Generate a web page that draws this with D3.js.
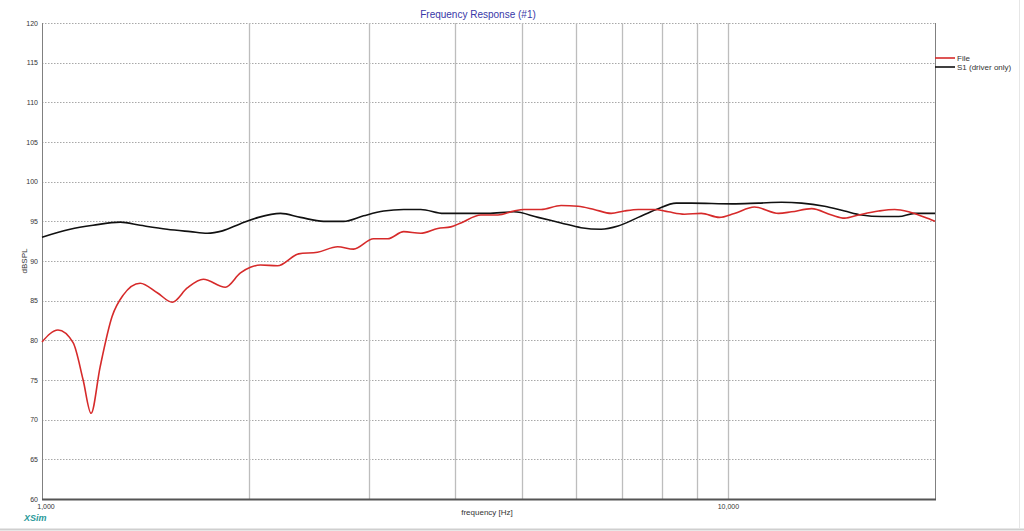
<!DOCTYPE html>
<html>
<head>
<meta charset="utf-8">
<script src="https://cdn.jsdelivr.net/npm/d3@7"></script>
<style>
    body { margin: 0; background: #fff; }
    svg { display: block; font-family: "Liberation Sans", Arial, sans-serif; }
</style>
</head>
<body>
<div id="chart"></div>
<script>
// "File" measurement (red)
const fileFreq = [1000, 1055, 1110, 1148, 1179, 1215, 1265, 1313, 1390, 1472, 1548, 1628, 1718, 1850, 1946,
    2012, 2081, 2203, 2365, 2520, 2696, 2844, 3042, 3189, 3365, 3563, 3772, 3941, 4076, 4360, 4616, 4870,
    5037, 5334, 5705, 6040, 6373, 6748, 7050, 7390, 7798, 8173, 8627, 9131, 9702, 10204, 10914, 11832,
    12361, 13222, 14138, 14770, 15478, 16555, 17471, 18315, 19323, 20000];
const fileDb = [79.8, 81.3, 79.7, 75.0, 70.8, 76.6, 83.0, 85.7, 87.2, 86.0, 84.8, 86.6, 87.7, 86.7, 88.5,
    89.2, 89.5, 89.4, 90.9, 91.1, 91.8, 91.5, 92.8, 92.8, 93.7, 93.5, 94.1, 94.3, 94.8, 95.8, 95.8, 96.3,
    96.5, 96.5, 97.0, 96.9, 96.5, 96.0, 96.3, 96.5, 96.5, 96.2, 95.9, 96.0, 95.5, 96.0, 96.8, 96.0,
    96.2, 96.6, 95.8, 95.4, 95.8, 96.3, 96.5, 96.2, 95.5, 95.0];

// "S1 (driver only)" simulation (black)
const s1Freq = [1000, 1099, 1187, 1300, 1390, 1521, 1645, 1741, 1832, 1946, 2067, 2226, 2380, 2572, 2750,
    2941, 3147, 3365, 3563, 3849, 4360, 4464, 4870, 5281, 5705, 6101, 6525, 6907, 7390, 7850, 8397,
    8832, 10135, 11061, 11952, 12784, 13809, 14770, 15635, 16723, 17707, 18683, 20000];
const s1Db = [93.0, 94.0, 94.5, 94.9, 94.5, 94.0, 93.7, 93.5, 93.8, 94.7, 95.5, 96.0, 95.5, 95.0, 95.0,
    95.7, 96.3, 96.5, 96.5, 96.0, 96.0, 96.0, 96.2, 95.5, 94.8, 94.2, 94.0, 94.4, 95.5, 96.5, 97.3,
    97.3, 97.2, 97.3, 97.4, 97.3, 96.9, 96.3, 95.8, 95.6, 95.6, 96.0, 96.0];

const yTicks = [60, 65, 70, 75, 80, 85, 90, 95, 100, 105, 110, 115, 120];
const xGrid = [2000, 3000, 4000, 5000, 6000, 7000, 8000, 9000, 10000];
const xLabels = [1000, 10000];

const width = 1024;
const height = 531;
const margin = { top: 23, right: 89, bottom: 32, left: 42 };
const innerWidth = width - margin.left - margin.right;
const innerHeight = height - margin.top - margin.bottom;

const svg = d3.select("#chart").append("svg")
    .attr("width", width)
    .attr("height", height);

// outer frame lines of the window
svg.append("line")
    .attr("x1", 0).attr("x2", width)
    .attr("y1", 529.5).attr("y2", 529.5)
    .attr("stroke", "#cfcfcf").attr("stroke-width", 2);
svg.append("line")
    .attr("x1", 1019.5).attr("x2", 1019.5)
    .attr("y1", 0).attr("y2", 529)
    .attr("stroke", "#e6e6e6").attr("stroke-width", 1);

const chart = svg.append("g")
    .attr("transform", `translate(${margin.left}, ${margin.top})`);

const xScale = d3.scaleLog()
    .domain([1000, 20000])
    .range([0, innerWidth]);

const yScale = d3.scaleLinear()
    .domain([60, 120])
    .range([innerHeight, 0]);

// horizontal dotted grid
chart.selectAll(".hgrid")
    .data(yTicks)
    .enter()
    .append("line")
    .attr("class", "hgrid")
    .attr("x1", 0)
    .attr("x2", innerWidth)
    .attr("y1", d => Math.round(yScale(d)) + 0.5)
    .attr("y2", d => Math.round(yScale(d)) + 0.5)
    .attr("stroke", "#a8a8a8")
    .attr("stroke-width", 1)
    .attr("stroke-dasharray", "1.5,1.5");

// vertical solid grid
chart.selectAll(".vgrid")
    .data(xGrid)
    .enter()
    .append("line")
    .attr("class", "vgrid")
    .attr("x1", d => Math.round(xScale(d)) + 0.5)
    .attr("x2", d => Math.round(xScale(d)) + 0.5)
    .attr("y1", 0)
    .attr("y2", innerHeight)
    .attr("stroke", "#bdbdbd")
    .attr("stroke-width", 1.3);

// frame: left, right, bottom
chart.append("line")
    .attr("x1", 0.5).attr("x2", 0.5).attr("y1", 0).attr("y2", innerHeight)
    .attr("stroke", "#808080");
chart.append("line")
    .attr("x1", innerWidth + 0.5).attr("x2", innerWidth + 0.5).attr("y1", 0).attr("y2", innerHeight)
    .attr("stroke", "#808080");
chart.append("line")
    .attr("x1", 0).attr("x2", innerWidth + 1).attr("y1", innerHeight + 0.5).attr("y2", innerHeight + 0.5)
    .attr("stroke", "#555").attr("stroke-width", 2);

// y tick labels
chart.selectAll(".ylab")
    .data(yTicks)
    .enter()
    .append("text")
    .attr("class", "ylab")
    .attr("x", -4)
    .attr("y", d => yScale(d) + 2.5)
    .attr("text-anchor", "end")
    .style("font-size", "7px")
    .style("fill", "#333")
    .text(d => d);

// x tick labels
chart.selectAll(".xlab")
    .data(xLabels)
    .enter()
    .append("text")
    .attr("class", "xlab")
    .attr("x", d => xScale(d) + (d === 1000 ? 4 : 0))
    .attr("y", innerHeight + 10)
    .attr("text-anchor", "middle")
    .style("font-size", "7px")
    .style("fill", "#333")
    .text(d3.format(","));

// axis titles
chart.append("text")
    .attr("x", 445)
    .attr("y", innerHeight + 16)
    .attr("text-anchor", "middle")
    .style("font-size", "8px")
    .style("fill", "#333")
    .text("frequency [Hz]");

svg.append("text")
    .attr("transform", `translate(27, ${margin.top + innerHeight / 2}) rotate(-90)`)
    .attr("text-anchor", "middle")
    .style("font-size", "8px")
    .style("fill", "#333")
    .text("dBSPL");

// Chart Title
svg.append("text")
    .attr("x", 478)
    .attr("y", 18)
    .attr("text-anchor", "middle")
    .style("font-size", "10px")
    .style("fill", "#3838a8")
    .text("Frequency Response (#1)");

svg.append("text")
    .attr("x", 24)
    .attr("y", 521)
    .style("font-size", "9px")
    .style("font-weight", "bold")
    .style("font-style", "italic")
    .style("fill", "#2a9a9a")
    .text("XSim");

const line = d3.line()
    .x(d => xScale(d.f))
    .y(d => yScale(d.v))
    .curve(d3.curveMonotoneX);

const fileData = fileFreq.map((f, i) => ({ f, v: fileDb[i] }));
const s1Data = s1Freq.map((f, i) => ({ f, v: s1Db[i] }));

chart.append("path")
    .datum(s1Data)
    .attr("d", line)
    .style("stroke", "#111")
    .style("stroke-width", "1.6px")
    .style("fill", "none");

chart.append("path")
    .datum(fileData)
    .attr("d", line)
    .style("stroke", "#d62a2a")
    .style("stroke-width", "1.6px")
    .style("fill", "none");

// legend
const legend = chart.append("g")
    .attr("transform", `translate(${innerWidth}, 35)`);
const legendItems = [
    { name: "File", color: "#d62a2a" },
    { name: "S1 (driver only)", color: "#111" }
];
legendItems.forEach((d, i) => {
    legend.append("line")
        .attr("x1", 0).attr("x2", 20)
        .attr("y1", i * 9).attr("y2", i * 9)
        .attr("stroke", d.color)
        .attr("stroke-width", 1.6);
    legend.append("text")
        .attr("x", 22)
        .attr("y", i * 9 + 3)
        .style("font-size", "8px")
        .style("fill", "#333")
        .text(d.name);
});
</script>
</body>
</html>
